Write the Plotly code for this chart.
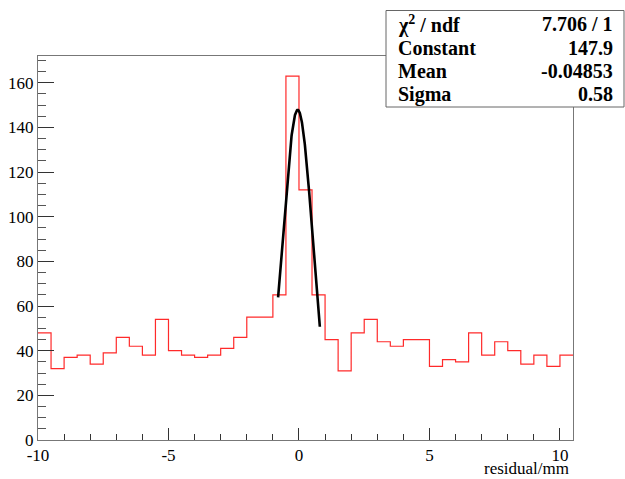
import numpy as np
import plotly.graph_objects as go

# Histogram data (bin width 0.5, from -10 to 10.5)
bin_edges = [-10 + 0.5 * i for i in range(42)]
counts = [48, 32, 37, 38, 34, 39, 46, 42, 38, 54,
          40, 38, 37, 38, 41, 46, 55, 55, 65, 163,
          112, 65, 45, 31, 48, 54, 44, 42, 45, 45,
          33, 36, 35, 48, 38, 44, 40, 34, 38, 33,
          38]
x_tick_vals = [-10, -5, 0, 5, 10]
x_tick_text = ["-10", "-5", "0", "5", "10"]

# Fit results
fit_constant = 147.9
fit_mean = -0.04853
fit_sigma = 0.58
fit_range = [-0.8, 0.8]
stats_labels = ["\u03c7<sup>2</sup> / ndf", "Constant", "Mean", "Sigma"]
stats_values = ["7.706 / 1", "147.9", "-0.04853", "0.58"]

W, H = 625, 479
L, R, T, B = 38, 52, 56, 39
pw, ph = W - L - R, H - T - B

def px_x(p):
    return (p - L) / pw

def px_y(p):
    return (H - B - p) / ph

fx = np.linspace(fit_range[0], fit_range[1], 200)
fy = fit_constant * np.exp(-0.5 * ((fx - fit_mean) / fit_sigma) ** 2)

fig = go.Figure()
fig.add_trace(go.Scatter(
    x=bin_edges, y=counts + [counts[-1]], mode="lines",
    line=dict(shape="hv", color="#ff2a2a", width=1.2),
    showlegend=False, hoverinfo="skip"))
fig.add_trace(go.Scatter(
    x=fx, y=fy, mode="lines",
    line=dict(color="black", width=2.6),
    showlegend=False, hoverinfo="skip"))

font = "Liberation Serif, Times New Roman, serif"

fig.update_layout(
    width=W, height=H,
    margin=dict(l=L, r=R, t=T, b=B, pad=0, autoexpand=False),
    paper_bgcolor="white", plot_bgcolor="white",
    font=dict(family=font, size=17, color="black"),
    xaxis=dict(range=[-10, 10.5], tickvals=x_tick_vals, ticktext=x_tick_text,
               ticks="inside", ticklen=12, tickcolor="#333", tickwidth=1,
               minor=dict(dtick=1, ticklen=6, tickcolor="#333", ticks="inside", showgrid=False),
               showline=True, linecolor="#777", linewidth=1, mirror=True,
               showgrid=False, zeroline=False, automargin=False,
               tickfont=dict(family=font, size=17, color="black")),
    yaxis=dict(range=[0, 172], dtick=20, tick0=0,
               ticks="inside", ticklen=16, tickcolor="#333", tickwidth=1,
               minor=dict(dtick=5, ticklen=8, tickcolor="#555", ticks="inside", showgrid=False),
               showline=True, linecolor="#777", linewidth=1, mirror=True,
               showgrid=False, zeroline=False, automargin=False,
               tickfont=dict(family=font, size=17, color="black")),
)

# Stats box
fig.add_shape(type="rect", xref="paper", yref="paper",
              x0=px_x(386), x1=px_x(624), y0=px_y(107), y1=px_y(10.5),
              fillcolor="white", line=dict(color="#666", width=1), layer="above")

row_y = [24, 48, 71, 94]
for lab, val, yy in zip(stats_labels, stats_values, row_y):
    fig.add_annotation(xref="paper", yref="paper", x=px_x(396), y=px_y(yy),
                       text="<b>" + lab + "</b>", showarrow=False,
                       xanchor="left", yanchor="middle",
                       font=dict(family=font, size=20, color="black"))
    fig.add_annotation(xref="paper", yref="paper", x=px_x(615), y=px_y(yy),
                       text="<b>" + val + "</b>", showarrow=False,
                       xanchor="right", yanchor="middle",
                       font=dict(family=font, size=20, color="black"))

# x-axis title
fig.add_annotation(xref="paper", yref="paper", x=px_x(571), y=px_y(468),
                   text="residual/mm", showarrow=False,
                   xanchor="right", yanchor="middle",
                   font=dict(family=font, size=17, color="black"))

fig.write_html("out.html",
               config={"displayModeBar": False, "staticPlot": True},
               post_script="document.body.style.margin='0';document.body.style.overflow='hidden';")
